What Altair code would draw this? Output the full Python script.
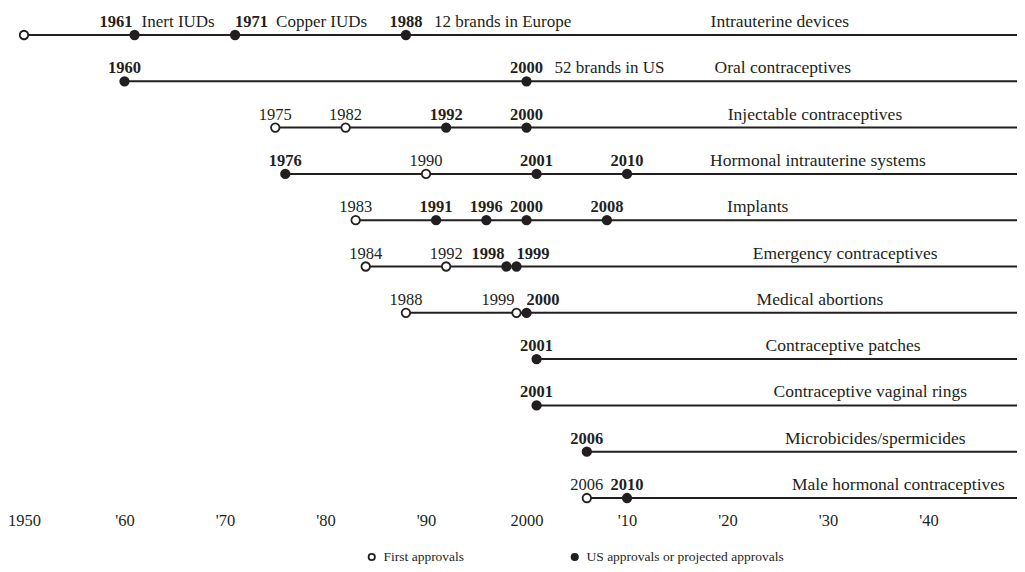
import json
import altair as alt
import pandas as pd

FONT = "Liberation Serif"
INK = "#231f20"

# ---- data ----
products = [
    "Intrauterine devices",
    "Oral contraceptives",
    "Injectable contraceptives",
    "Hormonal intrauterine systems",
    "Implants",
    "Emergency contraceptives",
    "Medical abortions",
    "Contraceptive patches",
    "Contraceptive vaginal rings",
    "Microbicides/spermicides",
    "Male hormonal contraceptives",
]
# year at which each row's name is centred
title_year = [2025.2, 2025.5, 2028.7, 2029.0, 2023.0, 2031.7, 2029.2, 2031.5, 2034.2, 2034.7, 2037.0]

event_row = [0, 0, 0, 0,
             1, 1,
             2, 2, 2, 2,
             3, 3, 3, 3,
             4, 4, 4, 4, 4,
             5, 5, 5, 5,
             6, 6, 6,
             7,
             8,
             9,
             10, 10]
event_year = [1950, 1961, 1971, 1988,
              1960, 2000,
              1975, 1982, 1992, 2000,
              1976, 1990, 2001, 2010,
              1983, 1991, 1996, 2000, 2008,
              1984, 1992, 1998, 1999,
              1988, 1999, 2000,
              2001,
              2001,
              2006,
              2006, 2010]
# F = first approval (open), U = US / projected approval (filled)
event_kind = ["F", "U", "U", "U",
              "U", "U",
              "F", "F", "U", "U",
              "U", "F", "U", "U",
              "F", "U", "U", "U", "U",
              "F", "F", "U", "U",
              "F", "F", "U",
              "U",
              "U",
              "U",
              "F", "U"]
event_label = ["", "1961", "1971", "1988",
               "1960", "2000",
               "1975", "1982", "1992", "2000",
               "1976", "1990", "2001", "2010",
               "1983", "1991", "1996", "2000", "2008",
               "1984", "1992", "1998", "1999",
               "1988", "1999", "2000",
               "2001",
               "2001",
               "2006",
               "2006", "2010"]
event_anchor = ["center", "right", "left", "center",
                "center", "center",
                "center", "center", "center", "center",
                "center", "center", "center", "center",
                "center", "center", "center", "center", "center",
                "center", "center", "right", "left",
                "center", "right", "left",
                "center",
                "center",
                "center",
                "center", "center"]
event_note = ["", "Inert IUDs", "Copper IUDs", "12 brands in Europe",
              "", "52 brands in US",
              "", "", "", "",
              "", "", "", "",
              "", "", "", "", "",
              "", "", "", "",
              "", "", "",
              "",
              "",
              "",
              "", ""]

tick_values = [1950, 1960, 1970, 1980, 1990, 2000, 2010, 2020, 2030, 2040]
tick_labels = ["1950", "'60", "'70", "'80", "'90", "2000", "'10", "'20", "'30", "'40"]

legend_names = ["First approvals", "US approvals or projected approvals"]

X_MIN, X_MAX = 1950, 2048.8

# ---- tables ----
events = pd.DataFrame({
    "row": event_row,
    "x": event_year,
    "k": event_kind,
    "label": event_label,
    "anchor": event_anchor,
    "note": event_note,
})
events["kind"] = events["k"].map({"F": legend_names[0], "U": legend_names[1]})

lines = events.groupby("row", as_index=False)["x"].min()
lines["x2"] = X_MAX

titles = pd.DataFrame({"row": list(range(len(products))), "x": title_year, "name": products})

label_expr = f"{json.dumps(tick_labels)}[indexof({json.dumps(tick_values)}, datum.value)]"

x_scale = alt.Scale(domain=[X_MIN, X_MAX], nice=False, zero=False)
y_scale = alt.Scale(domain=[-0.583, 10.194], reverse=True, nice=False, zero=False)
x_axis = alt.Axis(values=tick_values, labelExpr=label_expr, title=None, labelFlush=False)


def X():
    return alt.X("x:Q", scale=x_scale, axis=x_axis)


def Y():
    return alt.Y("row:Q", scale=y_scale, axis=None)


rules = alt.Chart(lines).mark_rule(strokeWidth=2, color=INK).encode(
    x=X(), x2="x2:Q", y=Y()
)

points = alt.Chart(events).mark_point(
    filled=True, size=72, stroke=INK, strokeWidth=1.8, opacity=1
).encode(
    x=X(),
    y=Y(),
    fill=alt.Fill(
        "kind:N",
        scale=alt.Scale(domain=legend_names, range=["white", INK]),
        legend=alt.Legend(
            title=None,
            orient="none",
            legendX=341,
            legendY=542,
            direction="horizontal",
            symbolType="circle",
            symbolSize=40,
            symbolStrokeColor=INK,
            symbolStrokeWidth=1.8,
            labelFont=FONT,
            labelFontSize=13.5,
            labelColor=INK,
            labelOffset=5,
            labelLimit=0,
            columnPadding=102,
        ),
    ),
)

layers = [rules]

for anchor in ["left", "center", "right"]:
    for k, weight in [("F", "normal"), ("U", "bold")]:
        layers.append(
            alt.Chart(events)
            .transform_filter(
                f"datum.anchor == '{anchor}' && datum.k == '{k}' && datum.label != ''"
            )
            .mark_text(
                align=anchor, baseline="alphabetic", dy=-8,
                dx=-2 if anchor == "right" else 0, font=FONT,
                fontSize=16.5, fontWeight=weight, color=INK,
            )
            .encode(x=X(), y=Y(), text="label:N")
        )

for anchor, dx in [("right", 7), ("center", 28), ("left", 41)]:
    layers.append(
        alt.Chart(events)
        .transform_filter(f"datum.anchor == '{anchor}' && datum.note != ''")
        .mark_text(
            align="left", baseline="alphabetic", dx=dx, dy=-8, font=FONT,
            fontSize=17, color=INK,
        )
        .encode(x=X(), y=Y(), text="note:N")
    )

layers.append(
    alt.Chart(titles)
    .mark_text(align="center", baseline="alphabetic", dy=-8, font=FONT, fontSize=17.5, color=INK)
    .encode(x=X(), y=Y(), text="name:N")
)

layers.append(points)

chart = (
    alt.layer(*layers)
    .properties(
        width=993,
        height=499,
        padding={"left": 16, "top": 0, "right": 0, "bottom": 57},
        autosize=alt.AutoSizeParams(type="none"),
        background="white",
    )
    .configure_view(stroke=None)
    .configure_axis(
        domain=False, ticks=False, grid=False,
        labelFont=FONT, labelFontSize=16.5, labelColor=INK, labelPadding=5,
    )
)

chart.save("out.html", embed_options={"renderer": "svg", "actions": False})
